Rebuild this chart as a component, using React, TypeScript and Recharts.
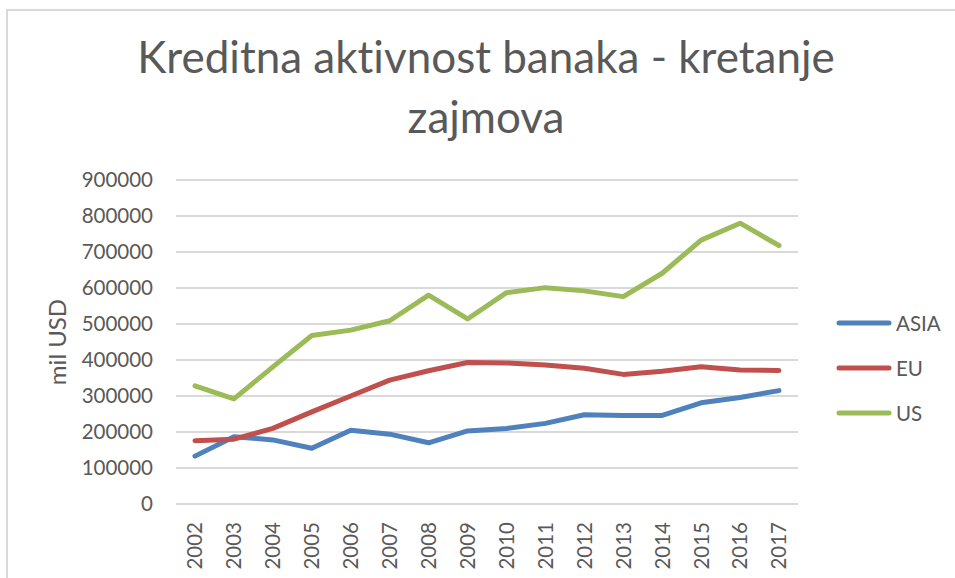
import React from 'react';
import { LineChart, Line, XAxis, YAxis, CartesianGrid, Legend } from 'recharts';

const years = ['2002','2003','2004','2005','2006','2007','2008','2009','2010','2011','2012','2013','2014','2015','2016','2017'];
const asia = [133000,187000,178000,155000,205000,194000,170000,203000,210000,224000,248000,246000,246000,281000,296000,315000];
const eu = [176000,180000,210000,256000,300000,344000,370000,393000,392000,386000,377000,360000,369000,381000,372000,371000];
const us = [328000,292000,381000,468000,483000,509000,580000,514000,587000,601000,592000,576000,641000,733000,780000,718000];
const yTicks = [0,100000,200000,300000,400000,500000,600000,700000,800000,900000];
const seriesNames = ['ASIA','EU','US'];
const seriesColors = ['#4F81BD','#C0504D','#9BBB59'];
const titleLines = ['Kreditna aktivnost banaka - kretanje','zajmova'];
const yLabel = 'mil USD';

const data = years.map((y, i) => ({ year: y, ASIA: asia[i], EU: eu[i], US: us[i] }));

const FONT = 'Lato, "Open Sans", sans-serif';
const TXT = '#595959';

const XTick = (props: any) => {
  const { x, y, payload } = props;
  return (
    <text x={x} y={y} transform={`rotate(-90 ${x} ${y})`} textAnchor="end" dy="0.36em"
      fill={TXT} fontSize={20.5} fontFamily={FONT}>{payload.value}</text>
  );
};

const LegendContent = () => (
  <div style={{ fontFamily: FONT }}>
    {seriesNames.map((n, i) => (
      <div key={n} style={{ display: 'flex', alignItems: 'center', height: 45 }}>
        <svg width={56} height={6} style={{ display: 'block' }}>
          <line x1={3} y1={3} x2={53} y2={3} stroke={seriesColors[i]} strokeWidth={5} strokeLinecap="round" />
        </svg>
        <span style={{ marginLeft: 4, fontSize: 20.5, color: TXT, lineHeight: '24px' }}>{n}</span>
      </div>
    ))}
  </div>
);

export default function App() {
  return (
    <div style={{ position: 'absolute', left: 0, top: 0, width: 955, height: 578, background: '#fff', overflow: 'hidden' }}>
      <div style={{ position: 'absolute', left: 6, top: 9, width: 960, height: 580, borderLeft: '2px solid #D9D9D9', borderTop: '2px solid #D9D9D9' }} />
      <svg width={955} height={160} style={{ position: 'absolute', left: 0, top: 0 }}>
        {titleLines.map((t, i) => (
          <text key={i} x={486} y={73 + i * 60} textAnchor="middle" fontFamily={FONT} fontSize={44} fill={TXT}
            style={{ fontVariantLigatures: 'none' }}>{t}</text>
        ))}
      </svg>
      <div style={{ position: 'absolute', left: 0, top: 0 }}>
        <LineChart width={955} height={578} data={data} margin={{ top: 180, right: 157, left: 0, bottom: 0 }}>
          <CartesianGrid vertical={false} stroke="#D9D9D9" strokeWidth={2} />
          <XAxis dataKey="year" height={74} axisLine={false} tickLine={false} tickSize={0} tickMargin={18}
            padding={{ left: 19, right: 19 }} interval={0} tick={<XTick />} />
          <YAxis width={176} domain={[0, 900000]} ticks={yTicks} axisLine={false} tickLine={false} tickSize={0} tickMargin={23}
            interval={0} tick={{ fill: TXT, fontSize: 20.5, fontFamily: FONT }}
            label={{ value: yLabel, angle: -90, position: 'insideLeft', offset: 57, style: { textAnchor: 'middle', fill: TXT, fontSize: 24, fontFamily: FONT } }} />
          <Legend layout="vertical" align="center" verticalAlign="middle" content={<LegendContent />}
            wrapperStyle={{ position: 'absolute', left: 836, top: 300.5, width: 110 }} />
          {seriesNames.map((n, i) => (
            <Line key={n} type="linear" dataKey={n} stroke={seriesColors[i]} strokeWidth={5} dot={false} activeDot={false}
              strokeLinecap="round" strokeLinejoin="round" isAnimationActive={false} />
          ))}
        </LineChart>
      </div>
    </div>
  );
}
